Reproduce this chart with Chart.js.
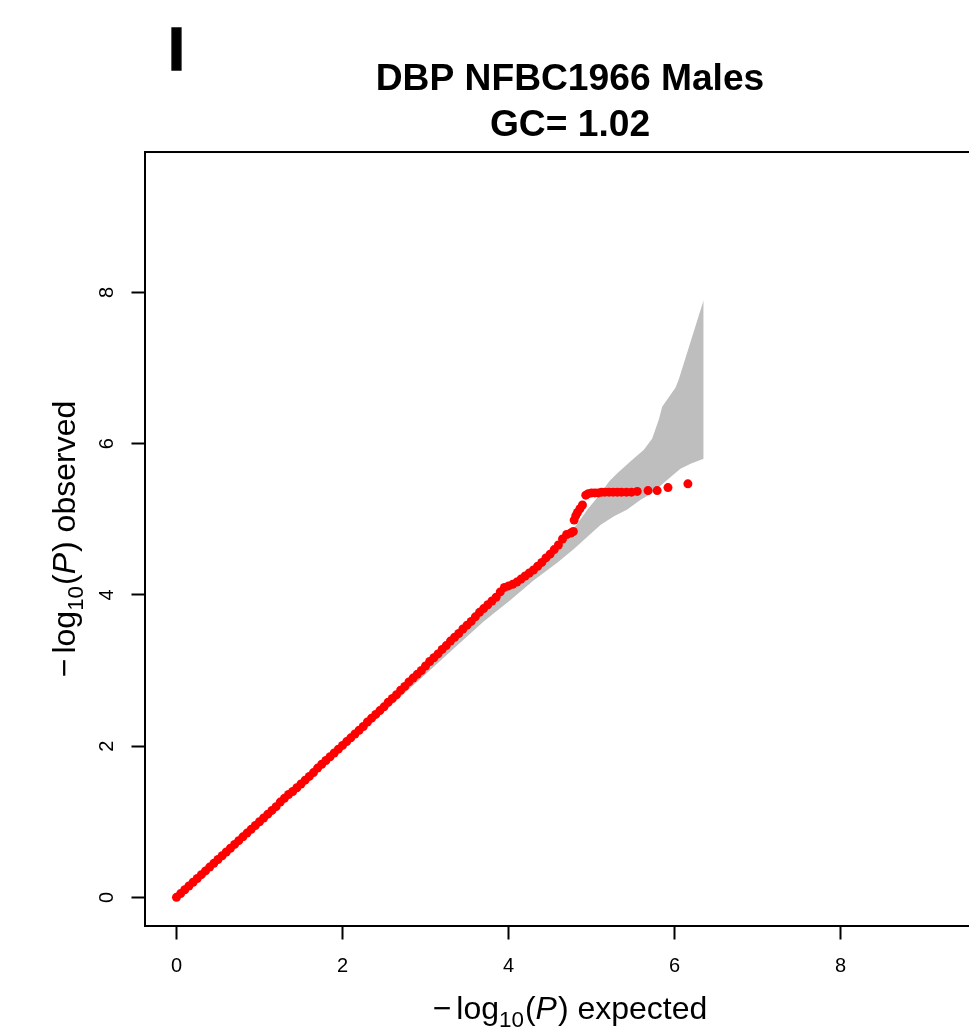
<!DOCTYPE html>
<html>
<head>
<meta charset="utf-8">
<script src="https://cdn.jsdelivr.net/npm/chart.js@4.4.1/dist/chart.umd.min.js"></script>
<style>
html,body{margin:0;padding:0;background:#fff;overflow:hidden;}
#wrap{width:969px;height:1034px;overflow:hidden;position:relative;background:#fff;}
canvas{display:block;}
</style>
</head>
<body>
<div id="wrap"><canvas id="c" width="1000" height="1034"></canvas></div>
<script>
// ---- data ----
const titleLines = ['DBP NFBC1966 Males', 'GC= 1.02'];
const panelLabel = 'I';
const xTicks = [0, 2, 4, 6, 8];
const yTicks = [0, 2, 4, 6, 8];

// expected -log10(P) of each plotted SNP
const expected = [
  0.00,0.05,0.10,0.15,0.20,0.25,0.30,0.35,0.40,0.45,
  0.50,0.55,0.60,0.65,0.70,0.75,0.80,0.85,0.90,0.95,
  1.00,1.05,1.10,1.15,1.20,1.25,1.30,1.35,1.40,1.45,
  1.50,1.55,1.60,1.65,1.70,1.75,1.80,1.85,1.90,1.95,
  2.00,2.05,2.10,2.15,2.20,2.25,2.30,2.35,2.40,2.45,
  2.50,2.55,2.60,2.65,2.70,2.75,2.80,2.85,2.90,2.95,
  3.00,3.05,3.10,3.15,3.20,3.25,3.30,3.35,3.40,3.45,
  3.50,3.55,3.60,3.65,3.70,3.75,3.80,3.85,3.90,3.95,
  4.00,4.05,4.10,4.15,4.20,4.25,4.30,4.35,4.40,4.45,
  4.50,4.55,4.60,4.65,4.70,4.75,
  4.78,4.79,4.81,4.83,4.86,4.89,
  4.93,4.96,5.00,5.04,5.08,5.12,5.16,5.21,5.26,5.31,5.36,5.42,5.48,5.55,
  5.68,5.79,5.92,6.16
];
// observed -log10(P)
const observed = [
  0.00,0.05,0.10,0.15,0.20,0.25,0.30,0.35,0.40,0.45,
  0.50,0.55,0.60,0.65,0.70,0.75,0.80,0.85,0.90,0.95,
  1.00,1.05,1.10,1.15,1.20,1.26,1.31,1.36,1.40,1.45,
  1.50,1.55,1.60,1.65,1.71,1.76,1.81,1.86,1.91,1.96,
  2.01,2.06,2.11,2.16,2.21,2.26,2.32,2.37,2.42,2.47,
  2.52,2.58,2.63,2.68,2.74,2.79,2.85,2.90,2.95,3.00,
  3.06,3.12,3.17,3.22,3.28,3.33,3.39,3.44,3.49,3.55,
  3.60,3.65,3.71,3.77,3.82,3.87,3.92,3.97,4.04,4.10,
  4.12,4.14,4.17,4.21,4.25,4.29,4.33,4.38,4.43,4.49,
  4.54,4.60,4.66,4.74,4.80,4.82,
  4.84,4.99,5.05,5.09,5.14,5.19,
  5.32,5.34,5.35,5.35,5.35,5.36,5.36,5.36,5.36,5.36,5.36,5.36,5.36,5.37,
  5.38,5.38,5.42,5.47
];

// grey confidence band: upper and lower edges
const bandUpperExp = [0, 1, 2, 3, 3.5, 4, 4.3, 4.6, 4.8, 4.95, 5.1, 5.21, 5.31, 5.47, 5.63, 5.73, 5.81, 5.85, 6.01, 6.05, 6.35];
const bandUpperObs = [0, 1.02, 2.04, 3.06, 3.58, 4.1, 4.38, 4.68, 4.9, 5.13, 5.33, 5.50, 5.61, 5.77, 5.92, 6.07, 6.32, 6.49, 6.74, 6.85, 7.90];
const bandLowerExp = [0, 1, 2, 3, 3.5, 3.7, 4.02, 4.3, 4.59, 4.79, 4.95, 5.11, 5.27, 5.43, 5.59, 5.73, 5.91, 6.07, 6.2, 6.35];
const bandLowerObs = [0, 0.98, 1.96, 2.95, 3.45, 3.65, 3.93, 4.19, 4.43, 4.61, 4.77, 4.93, 5.04, 5.13, 5.26, 5.35, 5.52, 5.67, 5.74, 5.80];

// ---- drawing ----
const FONT = "'Liberation Sans', Arial, Helvetica, sans-serif";

function drawMathTitle(ctx, word, cx, cy, rot) {
  const S = 32, SUB = 22.4;
  const parts = [
    {t: '\u2212', f: `${S}px ${FONT}`, dy: 0, gap: 5},
    {t: 'log', f: `${S}px ${FONT}`, dy: 0, gap: 0},
    {t: '10', f: `${SUB}px ${FONT}`, dy: 8, gap: 1},
    {t: '(', f: `${S}px ${FONT}`, dy: 0, gap: 0},
    {t: 'P', f: `italic ${S}px ${FONT}`, dy: 0, gap: 1},
    {t: ') ' + word, f: `${S}px ${FONT}`, dy: 0, gap: 0}
  ];
  let total = 0;
  parts.forEach(p => { ctx.font = p.f; p.w = ctx.measureText(p.t).width; total += p.w + p.gap; });
  ctx.save();
  ctx.translate(cx, cy);
  ctx.rotate(rot);
  ctx.fillStyle = '#000';
  ctx.textAlign = 'left';
  ctx.textBaseline = 'alphabetic';
  let x = -total / 2;
  parts.forEach(p => { ctx.font = p.f; ctx.fillText(p.t, x, p.dy); x += p.w + p.gap; });
  ctx.restore();
}

const decor = {
  id: 'decor',
  afterDraw(chart) {
    const ctx = chart.ctx, a = chart.chartArea;
    ctx.save();
    ctx.strokeStyle = '#000';
    ctx.lineWidth = 2;
    ctx.strokeRect(a.left, a.top, a.right - a.left, a.bottom - a.top);
    ctx.fillStyle = '#000';
    ctx.font = `bold 61px ${FONT}`;
    ctx.textAlign = 'left';
    ctx.textBaseline = 'alphabetic';
    ctx.lineWidth = 1.5;
    ctx.fillText(panelLabel, 168, 70);
    ctx.strokeText(panelLabel, 168, 70);
    ctx.restore();
    drawMathTitle(ctx, 'expected', (a.left + a.right) / 2, 1019, 0);
    drawMathTitle(ctx, 'observed', 75, (a.top + a.bottom) / 2, -Math.PI / 2);
  }
};

const tickFont = {family: FONT, size: 20};

new Chart(document.getElementById('c'), {
  type: 'scatter',
  data: {
    datasets: [
      {
        label: 'observed',
        data: expected.map((x, i) => ({x: x, y: observed[i]})),
        pointRadius: 4.5,
        pointHoverRadius: 4.5,
        pointBackgroundColor: '#ff0000',
        pointBorderColor: '#ff0000',
        pointBorderWidth: 0,
        showLine: false,
        order: 0
      },
      {
        type: 'line',
        label: 'band upper',
        data: bandUpperExp.map((x, i) => ({x: x, y: bandUpperObs[i]})),
        pointRadius: 0,
        borderWidth: 0,
        borderColor: 'rgba(0,0,0,0)',
        backgroundColor: '#bebebe',
        fill: '+1',
        tension: 0,
        order: 1
      },
      {
        type: 'line',
        label: 'band lower',
        data: bandLowerExp.map((x, i) => ({x: x, y: bandLowerObs[i]})),
        pointRadius: 0,
        borderWidth: 0,
        borderColor: 'rgba(0,0,0,0)',
        backgroundColor: '#bebebe',
        fill: false,
        tension: 0,
        order: 2
      }
    ]
  },
  options: {
    responsive: false,
    animation: false,
    devicePixelRatio: 1,
    events: [],
    layout: {padding: {left: 0, right: 5, top: 0, bottom: 0}},
    plugins: {
      legend: {display: false},
      tooltip: {enabled: false},
      title: {
        display: true,
        text: titleLines,
        fullSize: false,
        align: 'center',
        color: '#000',
        font: {family: FONT, size: 37.2, weight: 'bold', lineHeight: 1.226},
        padding: {top: 57.2, bottom: 3.6}
      }
    },
    scales: {
      x: {
        type: 'linear',
        min: -0.379,
        max: 9.859,
        afterBuildTicks: s => { s.ticks = xTicks.map(v => ({value: v})); },
        afterFit: s => { s.height = 108; },
        border: {display: false},
        grid: {drawOnChartArea: false, drawTicks: true, tickLength: 13.5, tickColor: '#000', tickWidth: 2, color: '#000'},
        ticks: {color: '#000', font: tickFont, padding: 15, maxRotation: 0, autoSkip: false}
      },
      y: {
        type: 'linear',
        min: -0.379,
        max: 9.859,
        afterBuildTicks: s => { s.ticks = yTicks.map(v => ({value: v})); },
        afterFit: s => { s.width = 145; },
        border: {display: false},
        grid: {drawOnChartArea: false, drawTicks: true, tickLength: 13.5, tickColor: '#000', tickWidth: 2, color: '#000'},
        ticks: {color: '#000', font: tickFont, padding: 18, minRotation: 90, maxRotation: 90, crossAlign: 'center', autoSkip: false}
      }
    }
  },
  plugins: [decor]
});
</script>
</body>
</html>
